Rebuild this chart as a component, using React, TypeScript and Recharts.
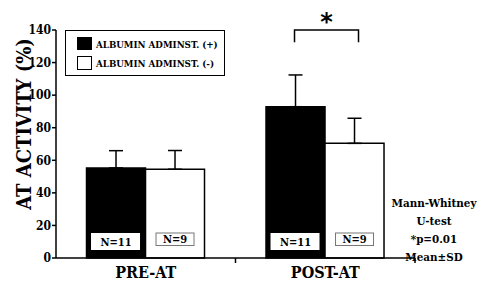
import { BarChart, Bar, XAxis, YAxis, ErrorBar, LabelList } from "recharts";

const categories = ["PRE-AT", "POST-AT"];
const albuminPlus = [55.3, 92.9];
const albuminPlusSd = [10.6, 19.5];
const albuminMinus = [54.5, 70.4];
const albuminMinusSd = [11.5, 15.4];
const nPlus = ["N=11", "N=11"];
const nMinus = ["N=9", "N=9"];
const significance = ["", "*"];
const yTicks = [0, 20, 40, 60, 80, 100, 120, 140];
const statLines = ["Mann-Whitney", "U-test", "*p=0.01", "Mean\u00B1SD"];

const FONT = "'DejaVu Serif Condensed', 'DejaVu Serif', serif";

const data = categories.map((c, i) => ({
  category: c,
  plus: albuminPlus[i],
  plusErr: [0, albuminPlusSd[i]],
  minus: albuminMinus[i],
  minusErr: [0, albuminMinusSd[i]],
  nPlus: nPlus[i],
  nMinus: nMinus[i],
  sig: significance[i],
}));

const txt = { fontFamily: FONT, fontStretch: "condensed", fontWeight: "bold" as const, fill: "#000" };

const NPlusLabel = ({ x, y, width, height, value }: any) => {
  const bottom = y + height;
  const cx = x + width / 2;
  return (
    <g>
      <rect x={cx - 25} y={bottom - 25} width={49} height={17} fill="#fff" />
      <text x={cx} y={bottom - 12.5} textAnchor="middle" style={{ ...txt, fontSize: 11 }}>
        {value}
      </text>
    </g>
  );
};

const NMinusLabel = ({ x, y, width, height, value }: any) => {
  const bottom = y + height;
  const cx = x + width / 2;
  return (
    <g>
      <rect x={cx - 19} y={bottom - 25} width={38} height={12.5} fill="#fff" stroke="#777" strokeWidth={1} />
      <text x={cx} y={bottom - 14.7} textAnchor="middle" style={{ ...txt, fontSize: 11 }}>
        {value}
      </text>
    </g>
  );
};

// bracket between the two bars of a group, drawn from the white bar's geometry
const SigBracket = ({ x, y, width, height, value, index }: any) => {
  if (!value) return null;
  const v = albuminMinus[index];
  const bottom = y + height;
  const perUnit = height / v;
  const top = bottom - 140 * perUnit;
  const leg = bottom - 132.5 * perUnit;
  const x1 = x - width / 2 - 1;
  const x2 = x + width / 2 + 4;
  return (
    <g>
      <path d={`M${x1},${leg}V${top}H${x2}V${leg}`} fill="none" stroke="#000" strokeWidth={1.5} />
      <text x={(x1 + x2) / 2} y={top} textAnchor="middle" fontFamily="DejaVu Sans, sans-serif" fontWeight="bold" fontSize={24} fill="#000">
        {value}
      </text>
    </g>
  );
};

const CatTick = ({ x, y, payload }: any) => (
  <g>
    <line x1={x + payload.offset} y1={y - 9} x2={x + payload.offset} y2={y - 4} stroke="#000" strokeWidth={1.5} />
    <text x={x} y={y + 11} textAnchor="middle" style={{ ...txt, fontSize: 16 }}>
      {payload.value}
    </text>
  </g>
);

const YLabel = () => (
  <text transform="translate(31,124) rotate(-90)" textAnchor="middle" style={{ ...txt, fontSize: 20 }}>
    AT ACTIVITY (%)
  </text>
);

const LegendBox = () => (
  <g style={{ ...txt, fontSize: 9.7 }}>
    <rect x={65.5} y={30.5} width={159} height={45} fill="#fff" stroke="#000" strokeWidth={1} />
    <rect x={77} y={37} width={15} height={13} fill="#000" />
    <text x={96} y={47.5}>ALBUMIN ADMINST. (+)</text>
    <rect x={77.5} y={56.5} width={14} height={13} fill="#fff" stroke="#000" strokeWidth={1} />
    <text x={96} y={67}>ALBUMIN ADMINST. (-)</text>
  </g>
);

const StatNote = () => (
  <g style={{ ...txt, fontSize: 11.5 }}>
    {statLines.map((s, i) => (
      <text key={s} x={434} y={207 + i * 18} textAnchor="middle">
        {s}
      </text>
    ))}
  </g>
);

export default function App() {
  return (
    <div style={{ position: "absolute", left: 0, top: 0, width: 500, height: 297, background: "#fff" }}>
      <BarChart
        width={500}
        height={297}
        data={data}
        margin={{ top: 30, right: 85, left: 0, bottom: 0 }}
        barCategoryGap="17%"
        barGap={0}
      >
        <XAxis
          dataKey="category"
          height={39}
          tickLine={false}
          tickSize={0}
          tickMargin={9}
          axisLine={{ stroke: "#000", strokeWidth: 1.5 }}
          tick={<CatTick />}
        />
        <YAxis
          width={56}
          domain={[0, 140]}
          ticks={yTicks}
          interval={0}
          tickSize={4}
          tickMargin={1}
          axisLine={{ stroke: "#000", strokeWidth: 1.5 }}
          tickLine={{ stroke: "#000", strokeWidth: 1.5 }}
          tick={{ ...txt, fontSize: 12 }}
          label={<YLabel />}
        />
        <Bar dataKey="plus" fill="#000" stroke="#000" strokeWidth={1.5} isAnimationActive={false}>
          <ErrorBar dataKey="plusErr" width={7} stroke="#000" strokeWidth={1.5} direction="y" />
          <LabelList dataKey="nPlus" content={<NPlusLabel />} />
        </Bar>
        <Bar dataKey="minus" fill="#fff" stroke="#000" strokeWidth={1.5} isAnimationActive={false}>
          <ErrorBar dataKey="minusErr" width={7} stroke="#000" strokeWidth={1.5} direction="y" />
          <LabelList dataKey="nMinus" content={<NMinusLabel />} />
          <LabelList dataKey="sig" content={<SigBracket />} />
        </Bar>
        <LegendBox />
        <StatNote />
      </BarChart>
    </div>
  );
}
